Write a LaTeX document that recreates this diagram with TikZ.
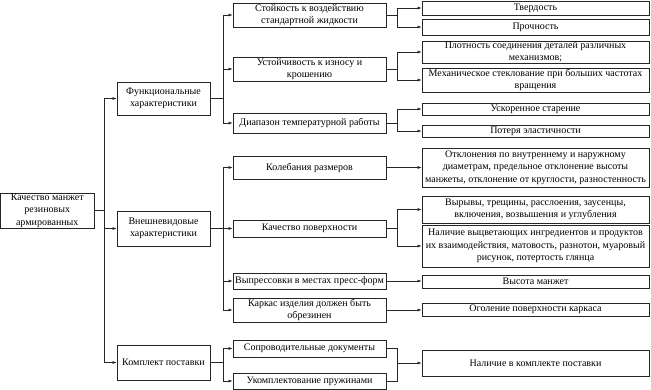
\documentclass[tikz,border=0pt]{standalone}
\usepackage{fontspec}
\setmainfont{Liberation Serif}
\usetikzlibrary{arrows.meta}
\tikzset{
  box/.style={draw=black!85,line width=0.7pt,inner sep=0pt,align=center,
    font=\fontsize{10}{12.3}\selectfont},
  conn/.style={draw=black!85,line width=0.6pt},
  arr/.style={conn,-{Latex[length=4pt,width=3pt]}}
}
\newcommand\bx[6]{\node[box,minimum width={(#4-#2)*1pt},minimum height={(#5-#3)*1pt}] (#1) at ({(#2+#4)/2},{(#3+#5)/2}) {#6};}
\begin{document}
\begin{tikzpicture}[x=1pt,y=-1pt]
\useasboundingbox (0,0) rectangle (651,390);
\bx{root}{0.5}{193}{94}{228}{Качество манжет\\резиновых\\армированных}
\bx{f1}{117}{82}{210}{115}{Функциональные\\характеристики}
\bx{f2}{117}{211}{210}{246}{Внешневидовые\\характеристики}
\bx{f3}{117}{345}{210}{380}{Комплект поставки}
\bx{s1}{233}{3}{386}{27}{Стойкость к воздействию\\стандартной жидкости}
\bx{s2}{233}{57}{386}{81}{Устойчивость к износу и\\крошению}
\bx{s3}{233}{113}{386}{133}{Диапазон температурной работы}
\bx{s4}{233}{156}{386}{179}{Колебания размеров}
\bx{s5}{233}{220}{386}{237}{Качество поверхности}
\bx{s6}{233}{273}{386}{289}{Выпрессовки в местах пресс-форм}
\bx{s7}{233}{298}{386}{322}{Каркас изделия должен быть\\обрезинен}
\bx{s8}{233}{340}{386}{357}{Сопроводительные документы}
\bx{s9}{233}{373}{386}{389}{Укомплектование пружинами}
\bx{t1}{422}{1}{649}{15}{Твердость}
\bx{t2}{422}{19}{649}{35}{Прочность}
\bx{t3}{422}{41}{649}{63}{Плотность соединения деталей различных\\механизмов;}
\bx{t4}{422}{68}{649}{92}{Механическое стеклование при больших частотах\\вращения}
\bx{t5}{422}{103}{649}{115}{Ускоренное старение}
\bx{t6}{422}{125}{649}{137}{Потеря эластичности}
\bx{t7}{422}{148}{649}{187}{Отклонения по внутреннему и наружному\\диаметрам, предельное отклонение высоты\\манжеты, отклонение от круглости, разностенность}
\bx{t8}{422}{196}{649}{223}{Вырывы, трещины, расслоения, заусенцы,\\включения, возвышения и углубления}
\bx{t9}{422}{225}{649}{267}{Наличие выцветающих ингредиентов и продуктов\\их взаимодействия, матовость, разнотон, муаровый\\рисунок, потертость глянца}
\bx{t10}{422}{275}{649}{288}{Высота манжет}
\bx{t11}{422}{303}{649}{316}{Оголение поверхности каркаса}
\bx{t12}{422}{350}{649}{376}{Наличие в комплекте поставки}
% root -> level 1
\coordinate (j0) at (104.5,210.5);
\draw[conn] (root.east) -- (j0);
\draw[arr] (j0) |- (f1.west);
\draw[arr] (j0) |- (f2.west);
\draw[arr] (j0) |- (f3.west);
% level 1 -> level 2
\draw[conn] (f1.east) -- ++(12.5,0) coordinate (j1);
\draw[arr] (j1) |- (s1.west);
\draw[arr] (j1) |- (s2.west);
\draw[arr] (j1) |- (s3.west);
\draw[conn] (f2.east) -- ++(12.5,0) coordinate (j2);
\draw[arr] (j2) |- (s4.west);
\draw[arr] (j2) |- (s5.west);
\draw[arr] (j2) |- (s6.west);
\draw[arr] (j2) |- (s7.west);
\draw[conn] (f3.east) -- ++(12.5,0) coordinate (j3);
\draw[arr] (j3) |- (s8.west);
\draw[arr] (j3) |- (s9.west);
% level 2 -> level 3
\draw[conn] (s1.east) -- ++(11,0) coordinate (k1);
\draw[arr] (k1) |- (t1.west);
\draw[arr] (k1) |- (t2.west);
\draw[conn] (s2.east) -- ++(11,0) coordinate (k2);
\draw[arr] (k2) |- (t3.west);
\draw[arr] (k2) |- (t4.west);
\draw[conn] (s3.east) -- ++(11,0) coordinate (k3);
\draw[arr] (k3) |- (t5.west);
\draw[arr] (k3) |- (t6.west);
\draw[arr] (s4.east) -- (s4.east -| t7.west);
\draw[conn] (s5.east) -- ++(11,0) coordinate (k5);
\draw[arr] (k5) |- (t8.west);
\draw[arr] (k5) |- (t9.west);
\draw[arr] (s6.east) -- (s6.east -| t10.west);
\draw[arr] (s7.east) -- (s7.east -| t11.west);
\coordinate (kc) at (397,363);
\draw[conn] (s8.east) -| (kc);
\draw[conn] (s9.east) -| (kc);
\draw[arr] (kc) -- (kc -| t12.west);
\end{tikzpicture}
\end{document}
